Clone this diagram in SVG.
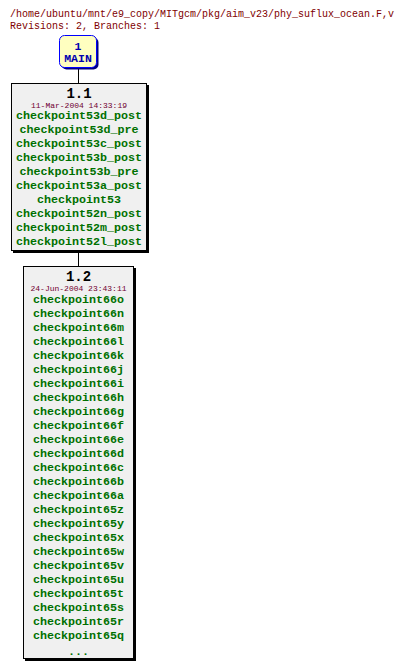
<svg xmlns="http://www.w3.org/2000/svg" width="404" height="669" viewBox="0 0 404 669">
<style>
.hdr{font-family:"Liberation Mono",monospace;font-size:10px;fill:#800000}
.rev{font-family:"Liberation Mono",monospace;font-size:14px;font-weight:bold;fill:#000;text-anchor:middle}
.date{font-family:"Liberation Mono",monospace;font-size:8px;fill:#700030;text-anchor:middle}
.tag{font-family:"Liberation Mono",monospace;font-size:11.7px;font-weight:bold;fill:#007000;text-anchor:middle}
.box{fill:#f0f0f0;stroke:#000;stroke-width:1}
.shadow{fill:#000}
.edge{stroke:#000;stroke-width:1;fill:none}
.br{font-family:"Liberation Mono",monospace;font-size:11.5px;font-weight:bold;fill:#0000b0;text-anchor:middle}
</style>
<rect width="404" height="669" fill="#fff"/>
<text class="hdr" x="10" y="17">/home/ubuntu/mnt/e9_copy/MITgcm/pkg/aim_v23/phy_suflux_ocean.F,v</text>
<text class="hdr" x="10" y="29">Revisions: 2, Branches: 1</text>
<g id="connectors">
<line class="edge" x1="78.5" y1="68" x2="78.5" y2="83"/>
<line class="edge" x1="78.5" y1="253" x2="78.5" y2="266"/>
</g>
<g id="main">
<rect x="61.5" y="37.5" width="37" height="32" rx="5" fill="#000080"/>
<rect x="59.5" y="35.5" width="37" height="32" rx="5" fill="#ffffc0" stroke="#0000ff" stroke-width="1"/>
<text class="br" x="78" y="50">1</text>
<text class="br" x="78" y="62">MAIN</text>
</g>
<g id="r1_1">
<rect class="shadow" x="13" y="85" width="136" height="168"/>
<rect class="box" x="11.5" y="83.5" width="135" height="167"/>
<text class="rev" x="79" y="97.5">1.1</text>
<text class="date" x="79" y="107.5">11-Mar-2004 14:33:19</text>
<text class="tag" x="79" y="119">checkpoint53d_post</text>
<text class="tag" x="79" y="133">checkpoint53d_pre</text>
<text class="tag" x="79" y="147">checkpoint53c_post</text>
<text class="tag" x="79" y="161">checkpoint53b_post</text>
<text class="tag" x="79" y="175">checkpoint53b_pre</text>
<text class="tag" x="79" y="189">checkpoint53a_post</text>
<text class="tag" x="79" y="203">checkpoint53</text>
<text class="tag" x="79" y="217">checkpoint52n_post</text>
<text class="tag" x="79" y="231">checkpoint52m_post</text>
<text class="tag" x="79" y="245">checkpoint52l_post</text>
</g>
<g id="r1_2">
<rect class="shadow" x="25" y="268" width="111" height="393"/>
<rect class="box" x="23.5" y="266.5" width="110" height="392"/>
<text class="rev" x="78.5" y="281">1.2</text>
<text class="date" x="78.5" y="291">24-Jun-2004 23:43:11</text>
<text class="tag" x="78.5" y="303">checkpoint66o</text>
<text class="tag" x="78.5" y="317">checkpoint66n</text>
<text class="tag" x="78.5" y="331">checkpoint66m</text>
<text class="tag" x="78.5" y="345">checkpoint66l</text>
<text class="tag" x="78.5" y="359">checkpoint66k</text>
<text class="tag" x="78.5" y="373">checkpoint66j</text>
<text class="tag" x="78.5" y="387">checkpoint66i</text>
<text class="tag" x="78.5" y="401">checkpoint66h</text>
<text class="tag" x="78.5" y="415">checkpoint66g</text>
<text class="tag" x="78.5" y="429">checkpoint66f</text>
<text class="tag" x="78.5" y="443">checkpoint66e</text>
<text class="tag" x="78.5" y="457">checkpoint66d</text>
<text class="tag" x="78.5" y="471">checkpoint66c</text>
<text class="tag" x="78.5" y="485">checkpoint66b</text>
<text class="tag" x="78.5" y="499">checkpoint66a</text>
<text class="tag" x="78.5" y="513">checkpoint65z</text>
<text class="tag" x="78.5" y="527">checkpoint65y</text>
<text class="tag" x="78.5" y="541">checkpoint65x</text>
<text class="tag" x="78.5" y="555">checkpoint65w</text>
<text class="tag" x="78.5" y="569">checkpoint65v</text>
<text class="tag" x="78.5" y="583">checkpoint65u</text>
<text class="tag" x="78.5" y="597">checkpoint65t</text>
<text class="tag" x="78.5" y="611">checkpoint65s</text>
<text class="tag" x="78.5" y="625">checkpoint65r</text>
<text class="tag" x="78.5" y="639">checkpoint65q</text>
<text class="tag" x="78.5" y="655">...</text>
</g>
</svg>
